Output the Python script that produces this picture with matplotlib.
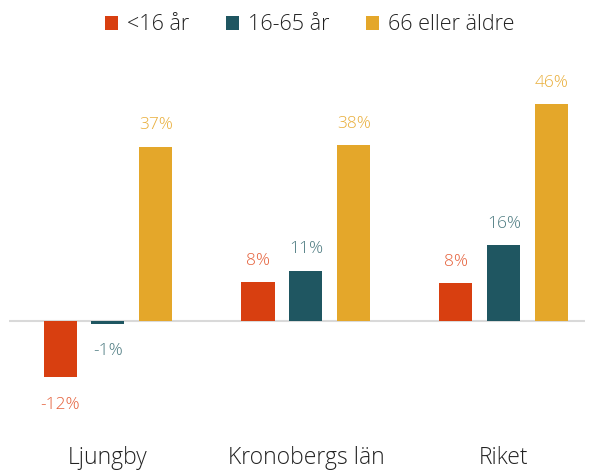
import matplotlib
matplotlib.use("Agg")
import matplotlib.pyplot as plt
from matplotlib.patches import Patch
from matplotlib.transforms import blended_transform_factory
import numpy as np

categories = ["Ljungby", "Kronobergs län", "Riket"]
series_names = ["<16 år", "16-65 år", "66 eller äldre"]
under16 = [-12.1, 8.1, 8.0]
age16_65 = [-0.7, 10.6, 16.0]
over66 = [37.0, 37.4, 46.0]
labels_under16 = ["-12%", "8%", "8%"]
labels_16_65 = ["-1%", "11%", "16%"]
labels_over66 = ["37%", "38%", "46%"]

bar_colors = ["#D83F10", "#1F5661", "#E4A72A"]
label_colors = ["#E5603A", "#4C7A80", "#E9AE3A"]

plt.rcParams['font.family'] = ['Open Sans', 'DejaVu Sans']
FW = 300

W, H = 595, 472
fig = plt.figure(figsize=(W / 100, H / 100), dpi=100)
ax_left, ax_right = 9, 585
ax_top, ax_bottom = 60, 430
zero_px = 320.5
ppu = 4.70
ax = fig.add_axes([ax_left / W, 1 - ax_bottom / H, (ax_right - ax_left) / W, (ax_bottom - ax_top) / H])

x = np.arange(len(categories))
width = 0.167
offset = 0.242
all_vals = [under16, age16_65, over66]
all_labels = [labels_under16, labels_16_65, labels_over66]
for i, (vals, labs) in enumerate(zip(all_vals, all_labels)):
    xs = x + (i - 1) * offset
    ax.bar(xs, vals, width, color=bar_colors[i], zorder=3)
    for xi, v, lab in zip(xs, vals, labs):
        if v >= 0:
            ax.annotate(lab, (xi, v), xytext=(0, 9.5), textcoords="offset points",
                        ha="center", va="bottom", fontsize=12.5, color=label_colors[i],
                        fontweight=FW)
        else:
            ax.annotate(lab, (xi, v), xytext=(0, -14), textcoords="offset points",
                        ha="center", va="top", fontsize=12.5, color=label_colors[i],
                        fontweight=FW)

ax.axhline(0, color="#D9D9D9", lw=1.5, zorder=2)
ax.set_xlim(-0.5, 2.41)
ax.set_ylim(-(ax_bottom - zero_px) / ppu, (zero_px - ax_top) / ppu)
for s in ax.spines.values():
    s.set_visible(False)
ax.set_xticks([])
ax.set_yticks([])

trans = blended_transform_factory(ax.transData, fig.transFigure)
for xi, c in zip(x, categories):
    ax.text(xi, 1 - 470 / H, c, transform=trans, ha="center", va="bottom",
            fontsize=16.5, color="#222222", fontweight=FW)

handles = [Patch(facecolor=c, edgecolor="none") for c in bar_colors]
leg = fig.legend(handles, series_names, loc="center", bbox_to_anchor=(0.52, 1 - 25 / H),
           ncol=3, frameon=False, handlelength=0.62, handleheight=0.62,
           handletextpad=0.4, columnspacing=1.7, labelcolor="#222222",
           prop={"family": ["Open Sans", "DejaVu Sans"], "weight": FW, "size": 15.5})

fig.savefig("out.png", dpi=100)
